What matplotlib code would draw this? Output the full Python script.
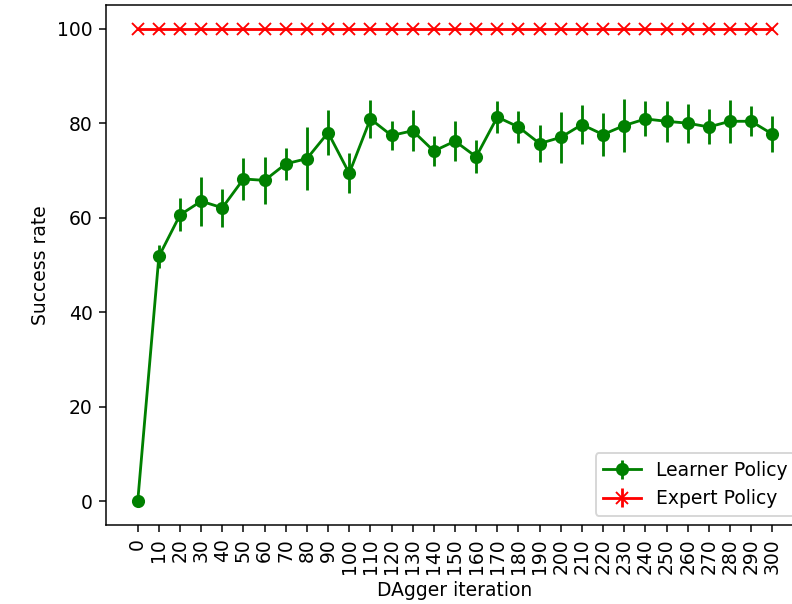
import matplotlib
matplotlib.use("Agg")
import matplotlib.pyplot as plt

iterations = list(range(0, 301, 10))
learner_mean = [0.0, 51.8, 60.6, 63.5, 62.1, 68.2, 67.9, 71.4, 72.5, 78.0, 69.4,
                80.9, 77.4, 78.4, 74.1, 76.2, 72.9, 81.3, 79.2, 75.7, 77.0,
                79.7, 77.6, 79.5, 80.9, 80.4, 80.0, 79.2, 80.4, 80.4, 77.7]
learner_err = [0.0, 2.4, 3.5, 5.2, 4.0, 4.4, 5.0, 3.4, 6.7, 4.8, 4.2,
               4.0, 3.0, 4.3, 3.2, 4.2, 3.5, 3.3, 3.3, 3.9, 5.4,
               4.2, 4.5, 5.7, 3.7, 4.3, 4.1, 3.7, 4.6, 3.2, 3.9]
expert_rate = [100.0] * len(iterations)
expert_err = [0.0] * len(iterations)

fig = plt.figure(figsize=(792 / 135, 604 / 135), dpi=135)
# axes run past the right edge, the reference is cropped there
ax = fig.add_axes([106 / 792, 79 / 604, 698 / 792, 520 / 604])

ax.errorbar(iterations, learner_mean, yerr=learner_err, color="green",
            marker="o", label="Learner Policy")
ax.errorbar(iterations, expert_rate, yerr=expert_err, color="red",
            marker="x", label="Expert Policy")

ax.set_xticks(iterations)
ax.set_xticklabels([str(i) for i in iterations], rotation=90)
ax.set_xlabel("DAgger iteration")
ax.set_ylabel("Success rate")
ax.legend(loc="lower right")

fig.savefig("out.png", dpi=135)
